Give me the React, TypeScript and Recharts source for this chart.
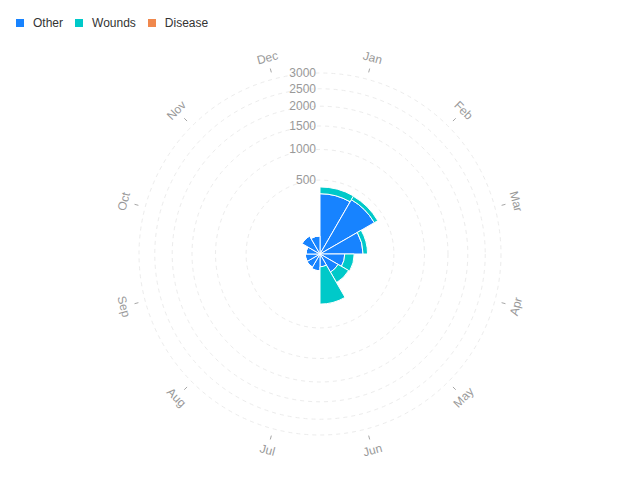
import React from "react"
import {
  RadialBarChart,
  RadialBar,
  PolarAngleAxis,
  PolarRadiusAxis,
  PolarGrid,
  Legend,
} from "recharts"

const MONTHS = ["Jan", "Feb", "Mar", "Apr", "May", "Jun", "Jul", "Aug", "Sep", "Oct", "Nov", "Dec"]
const OTHER = [333, 360, 170, 56, 40, 15, 26, 21, 20, 18, 40, 30]
const WOUNDS = [79, 47, 37, 51, 60, 215, 0, 0, 0, 0, 0, 0]
const DISEASE = [0, 0, 0, 0, 0, 0, 0, 0, 0, 0, 0, 0]
const RADIUS_TICKS = [500, 1000, 1500, 2000, 2500, 3000]

const SERIES = [
  { key: "other", name: "Other", color: "#1783FF" },
  { key: "wounds", name: "Wounds", color: "#00C9C9" },
  { key: "disease", name: "Disease", color: "#F0884D" },
]

const data = MONTHS.map((month, i) => ({
  month,
  other: OTHER[i],
  wounds: WOUNDS[i],
  disease: DISEASE[i],
}))

const CX = 320
const CY = 254
const OUTER = 181
const RAD = Math.PI / 180
// recharts puts the sector after the tick when the angle runs clockwise,
// so the label is moved half a band to sit in the middle of its sector
const HALF_BAND = 360 / MONTHS.length / 2

function AngleTick({ payload }: any) {
  const a = payload.coordinate + HALF_BAND
  const cos = Math.cos(-a * RAD)
  const sin = Math.sin(-a * RAD)
  const pt = (r: number) => [CX + r * cos, CY + r * sin]
  const [x1, y1] = pt(OUTER + 7)
  const [x2, y2] = pt(OUTER + 11)
  const [tx, ty] = pt(OUTER + 22)
  let rot = (((90 - a) % 360) + 360) % 360
  if (rot > 90 && rot < 270) rot -= 180
  return (
    <g>
      <line x1={x1} y1={y1} x2={x2} y2={y2} stroke="#a6a6a6" strokeWidth={1} />
      <text
        x={tx}
        y={ty}
        textAnchor="middle"
        dominantBaseline="central"
        transform={`rotate(${rot} ${tx} ${ty})`}
        fill="#999"
        fontSize={12}
      >
        {payload.value}
      </text>
    </g>
  )
}

function RadiusTick({ x, y, payload }: any) {
  return (
    <text x={x - 4} y={y} textAnchor="end" dominantBaseline="central" fill="#999" fontSize={12}>
      {payload.value}
    </text>
  )
}

function LegendContent() {
  return (
    <div style={{ display: "flex", alignItems: "center", fontSize: 12, color: "#333" }}>
      {SERIES.map((s) => (
        <div key={s.key} style={{ display: "flex", alignItems: "center", marginRight: 12 }}>
          <span style={{ width: 8, height: 8, background: s.color, marginRight: 9, display: "inline-block" }} />
          <span>{s.name}</span>
        </div>
      ))}
    </div>
  )
}

export default function App() {
  return (
    <div
      style={{
        position: "absolute",
        left: 0,
        top: 0,
        width: 640,
        height: 480,
        background: "#fff",
        fontFamily: "'Liberation Sans', Arial, sans-serif",
      }}
    >
      <RadialBarChart
        width={640}
        height={480}
        data={data}
        cx={CX}
        cy={CY}
        innerRadius={0}
        outerRadius={OUTER}
        startAngle={90 - 2 * HALF_BAND}
        endAngle={-270 - 2 * HALF_BAND}
        layout="centric"
        barCategoryGap={0}
        barGap={0}
        margin={{ top: 0, right: 0, bottom: 0, left: 0 }}
      >
        <PolarGrid gridType="circle" radialLines={false} stroke="#ececec" strokeDasharray="4 4" />
        <PolarAngleAxis
          dataKey="month"
          type="category"
          axisLine={false}
          tickLine={false}
          tick={<AngleTick />}
        />
        <PolarRadiusAxis
          type="number"
          scale="sqrt"
          domain={[0, 3000]}
          ticks={RADIUS_TICKS}
          angle={90}
          axisLine={false}
          tickLine={false}
          tick={<RadiusTick />}
        />
        {SERIES.map((s) => (
          <RadialBar
            key={s.key}
            dataKey={s.key}
            name={s.name}
            stackId="a"
            fill={s.color}
            stroke={s.key === "disease" ? "none" : "#fff"}
            strokeWidth={1}
            isAnimationActive={false}
          />
        ))}
        <Legend
          verticalAlign="middle"
          align="center"
          content={<LegendContent />}
          wrapperStyle={{ position: "absolute", top: 16, left: 16, width: "auto", height: "auto" }}
        />
      </RadialBarChart>
    </div>
  )
}
